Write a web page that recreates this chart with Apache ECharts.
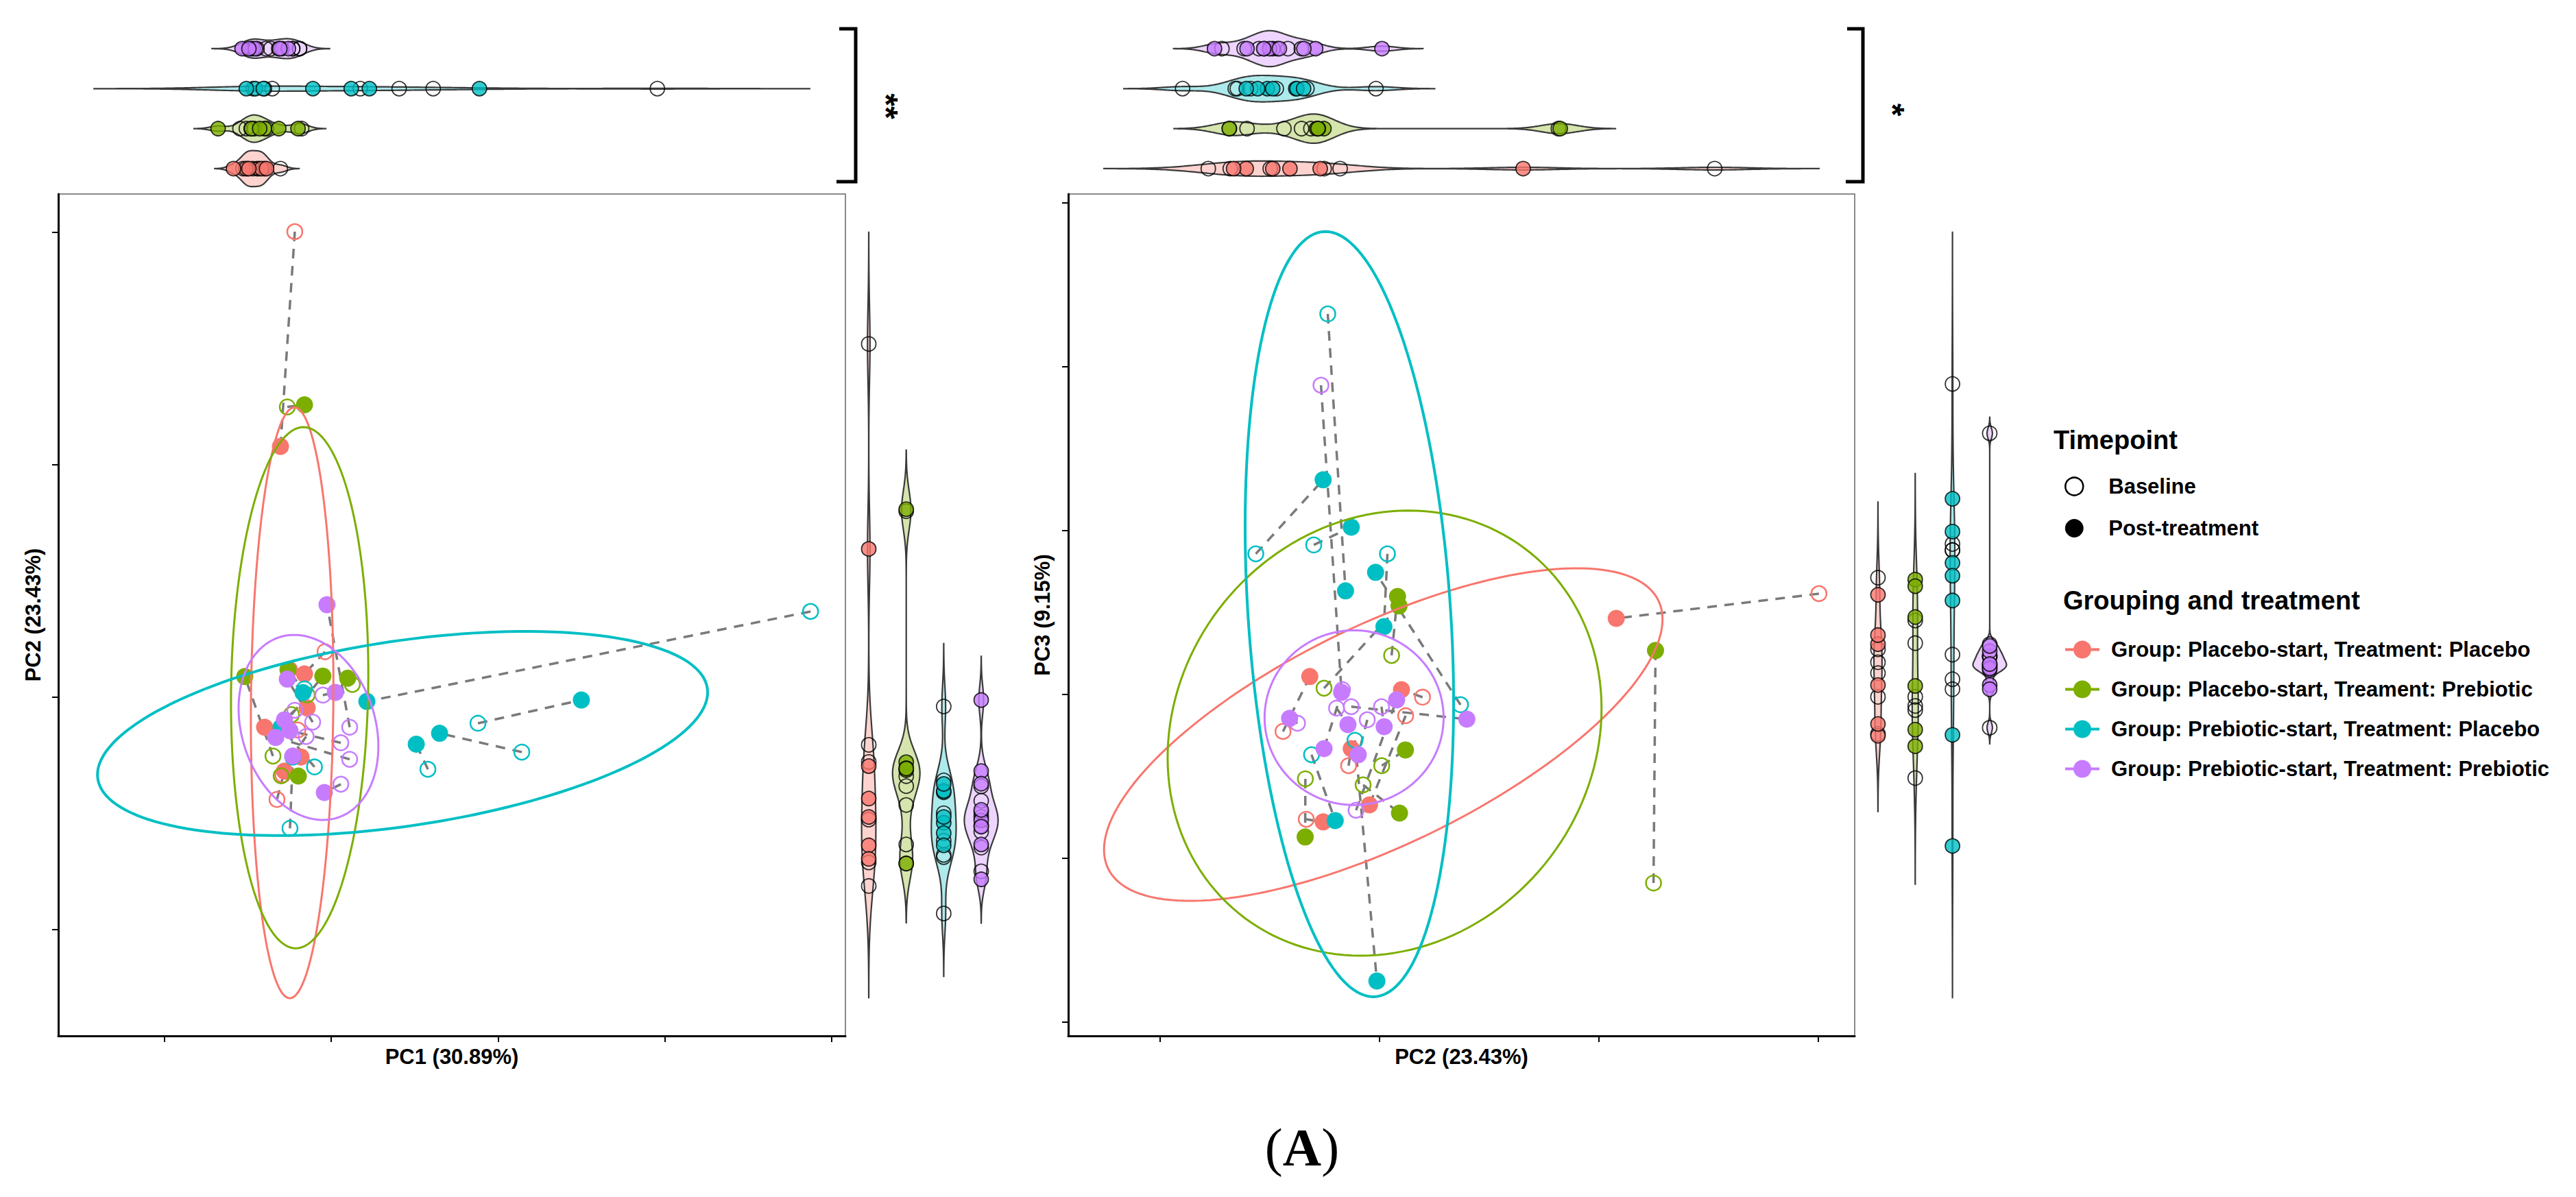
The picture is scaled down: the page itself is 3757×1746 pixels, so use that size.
<!DOCTYPE html>
<html><head><meta charset="utf-8">
<script src="https://cdn.jsdelivr.net/npm/echarts@6.0.0/dist/echarts.min.js"></script>
<style>html,body{margin:0;padding:0;background:#fff}#chart{width:3757px;height:1746px}</style>
</head><body><div id="chart"></div>
<script>
// ---------------- DATA ----------------
const groupNames = [
  'Group: Placebo-start, Treatment: Placebo',
  'Group: Placebo-start, Treament: Prebiotic',
  'Group: Prebiotic-start, Treatment: Placebo',
  'Group: Prebiotic-start, Treatment: Prebiotic'
];
const groupColors = ['#F8766D', '#7CAE00', '#00BFC4', '#C77CFF'];
const timepointNames = ['Baseline', 'Post-treatment'];

// each row = one subject: [PC1, PC2, PC3]; baseline row i pairs with post-treatment row i
const placeboPlaceboBaseline = [
  [-0.218, 2.003, 0.615], [-0.037, 0.196, -0.017], [-0.290, -0.334, -0.762],
  [-0.200, -0.141, -0.435], [-0.325, -0.440, -0.226], [-0.250, 0.119, -0.130]
];
const placeboPlaceboPost = [
  [-0.304, 1.079, 0.464], [-0.160, 0.100, 0.029], [-0.181, -0.257, -0.778],
  [-0.399, -0.129, -0.331], [-0.280, -0.318, 0.109], [-0.144, -0.046, -0.674]
];
const placeboPrebioticBaseline = [
  [-0.263, 1.249, -1.151], [0.127, 0.055, 0.238], [-0.144, 0.010, -0.435],
  [-0.238, -0.075, -0.552], [-0.349, -0.253, 0.038], [-0.300, -0.338, -0.515]
];
const placeboPrebioticPost = [
  [-0.160, 1.258, 0.268], [0.099, 0.082, 0.598], [-0.259, 0.118, -0.339],
  [-0.050, 0.091, -0.724], [-0.518, 0.089, 0.540], [-0.197, -0.339, -0.870]
];
const prebioticPlaceboBaseline = [
  [2.874, 0.369, -0.063], [0.880, -0.112, -0.280], [1.143, -0.236, 2.322],
  [0.580, -0.310, -0.368], [-0.247, -0.564, 0.858], [-0.160, 0.036, 0.858],
  [-0.100, -0.300, 0.912]
];
const prebioticPlaceboPost = [
  [0.214, -0.018, 0.745], [1.500, -0.012, -1.749], [0.650, -0.155, 0.632],
  [0.510, -0.202, -0.770], [-0.230, -0.257, 1.310], [-0.169, 0.020, 0.414],
  [-0.300, -0.129, 1.021]
];
const prebioticPrebioticBaseline = [
  [0.111, -0.129, -0.075], [-0.111, -0.107, -0.707], [-0.050, 0.009, -0.075],
  [0.058, -0.196, -0.084], [0.111, -0.267, 1.887], [0.058, -0.374, -0.176],
  [-0.150, -0.169, 0.029], [-0.218, -0.056, -0.155]
];
const prebioticPrebioticPost = [
  [-0.025, 0.398, -0.151], [-0.263, 0.078, -0.033], [0.025, 0.021, -0.197],
  [-0.247, -0.144, -0.184], [-0.333, -0.173, 0.013], [-0.041, -0.410, -0.146],
  [-0.230, -0.253, -0.331], [-0.280, -0.097, -0.368]
];

// 95% ellipses: [centerX, centerY, axisAx, axisAy, axisBx, axisBy, group]
const leftEllipses = [
  [-0.234, -0.024, 0.247, 0, 0.014, 1.271, 0],
  [-0.189, 0.041, 0.411, 0, 0.023, 1.121, 1],
  [0.428, -0.156, 1.829, 0.177, 0, -0.402, 2],
  [-0.136, -0.130, 0.410, 0, -0.086, 0.398, 3]
];
const rightEllipses = [
  [0.017, -0.245, 1.273, 0.703, 0, -0.732, 0],
  [0.023, -0.236, 0.983, 0, 0.109, 1.358, 1],
  [-0.1375, 0.490, 0.4625, 0, -0.109, 2.335, 2],
  [-0.116, -0.142, 0.408, 0, 0, 0.533, 3]
];

const pc1Ticks = [-1, 0, 1, 2, 3];
const pc2Ticks = [-1, 0, 1, 2];
const pc3Ticks = [-2, -1, 0, 1, 2, 3];
const pc1Range = [-1.636, 3.083];
const pc2RangeLeft = [-1.457, 2.165];
const pc2RangeRight = [-1.419, 2.166];
const pc3Range = [-2.084, 3.054];
const axisTitles = ['PC1 (30.89%)', 'PC2 (23.43%)', 'PC3 (9.15%)'];
const significance = ['**', '*'];

// ---------------- HELPERS ----------------
const baselines = [placeboPlaceboBaseline, placeboPrebioticBaseline, prebioticPlaceboBaseline, prebioticPrebioticBaseline];
const posts = [placeboPlaceboPost, placeboPrebioticPost, prebioticPlaceboPost, prebioticPrebioticPost];
const FONT = 'Liberation Sans';

function rgba(hex, a) {
  const n = parseInt(hex.slice(1), 16);
  return 'rgba(' + (n >> 16 & 255) + ',' + (n >> 8 & 255) + ',' + (n & 255) + ',' + a + ')';
}
function q7(s, p) { const h = (s.length - 1) * p, lo = Math.floor(h), hi = Math.ceil(h); return s[lo] + (h - lo) * (s[hi] - s[lo]); }
function bwNrd0(x) {
  const n = x.length, m = x.reduce((a, b) => a + b, 0) / n;
  const sd = Math.sqrt(x.reduce((a, b) => a + (b - m) * (b - m), 0) / (n - 1));
  const s = x.slice().sort((a, b) => a - b);
  let lo = Math.min(sd, (q7(s, 0.75) - q7(s, 0.25)) / 1.34);
  if (!lo) lo = sd || Math.abs(x[0]) || 1;
  return 0.9 * lo * Math.pow(n, -0.2);
}
function violinModel(k) {
  const dens = baselines.map((b, g) => {
    const x = b.concat(posts[g]).map(r => r[k]);
    const bw = bwNrd0(x);
    const a = Math.min(...x) - 3 * bw, c = Math.max(...x) + 3 * bw;
    const t = [], d = [], N = 300;
    for (let i = 0; i < N; i++) {
      const tt = a + (c - a) * i / (N - 1);
      let s = 0;
      for (const v of x) { const z = (tt - v) / bw; s += Math.exp(-0.5 * z * z); }
      t.push(tt); d.push(s / (x.length * bw * Math.sqrt(2 * Math.PI)));
    }
    return { t, d, a, c };
  });
  const maxD = Math.max(...dens.map(o => Math.max(...o.d)));
  const lo = Math.min(...dens.map(o => o.a)), hi = Math.max(...dens.map(o => o.c));
  const pad = 0.05 * (hi - lo);
  return { dens, maxD, min: lo - pad, max: hi + pad };
}
const vPC1 = violinModel(0), vPC2 = violinModel(1), vPC3 = violinModel(2);

function violinRenderer(model, horizontal) {
  return function (params, api) {
    const g = horizontal ? api.value(1) : api.value(0);
    const dd = model.dens[g];
    const band = horizontal ? api.size([0, 1])[1] : api.size([1, 0])[0];
    const side1 = [], side2 = [];
    for (let i = 0; i < dd.t.length; i++) {
      const hw = 0.45 * band * dd.d[i] / model.maxD;
      if (horizontal) {
        const c = api.coord([dd.t[i], g]);
        side1.push([c[0], c[1] - hw]); side2.push([c[0], c[1] + hw]);
      } else {
        const c = api.coord([g, dd.t[i]]);
        side1.push([c[0] - hw, c[1]]); side2.push([c[0] + hw, c[1]]);
      }
    }
    return {
      type: 'polygon', shape: { points: side1.concat(side2.reverse()) },
      style: { fill: rgba(groupColors[g], 0.32), stroke: '#3a3a3a', lineWidth: 2.2 }
    };
  };
}
function ellipseRender(params, api) {
  const cx = api.value(0), cy = api.value(1), ax = api.value(2), ay = api.value(3), bx = api.value(4), by = api.value(5), g = api.value(6);
  const pts = [];
  for (let i = 0; i <= 160; i++) {
    const t = i / 160 * 2 * Math.PI;
    pts.push(api.coord([cx + ax * Math.cos(t) + bx * Math.sin(t), cy + ay * Math.cos(t) + by * Math.sin(t)]));
  }
  return { type: 'polyline', shape: { points: pts }, style: { stroke: groupColors[g], lineWidth: g === 2 ? 4 : 3, fill: null } };
}
function segRender(params, api) {
  const p1 = api.coord([api.value(0), api.value(1)]), p2 = api.coord([api.value(2), api.value(3)]);
  return { type: 'line', shape: { x1: p1[0], y1: p1[1], x2: p2[0], y2: p2[1] }, style: { stroke: '#7a7a7a', lineWidth: 3.5, lineDash: [14, 11] } };
}

// ---------------- LAYOUT ----------------
const grids = [
  { left: 85, top: 283, width: 1148, height: 1228, show: true, borderColor: '#8a8a8a', borderWidth: 2 }, // 0 left scatter
  { left: 85, top: 41.8, width: 1148, height: 233.3 },   // 1 top-left violins (PC1)
  { left: 1239.7, top: 283, width: 218.7, height: 1228 }, // 2 right-left violins (PC2)
  { left: 1558, top: 283, width: 1147, height: 1228, show: true, borderColor: '#8a8a8a', borderWidth: 2 }, // 3 right scatter
  { left: 1558, top: 41.8, width: 1147, height: 233.3 }, // 4 top-right violins (PC2)
  { left: 2711.8, top: 283, width: 217.3, height: 1228 } // 5 right-right violins (PC3)
];
grids.forEach(g => { g.outerBoundsMode = 'none'; g.containLabel = false; });

const nameStyle = { fontFamily: FONT, fontWeight: 'bold', fontSize: 31, color: '#000' };
function mainAxis(gridIndex, range, ticks, name, gap) {
  return {
    type: 'value', gridIndex, min: range[0], max: range[1], name, nameLocation: 'middle', nameGap: gap,
    nameTextStyle: nameStyle,
    axisLine: { show: true, onZero: false, lineStyle: { color: '#000', width: 3 } },
    axisTick: { show: true, customValues: ticks, length: 9, lineStyle: { color: '#000', width: 2 } },
    axisLabel: { show: false }, splitLine: { show: false }
  };
}
const catData = ['0', '1', '2', '3'];
function hiddenCat(gridIndex) { return { type: 'category', gridIndex, data: catData, show: false, boundaryGap: true }; }
function hiddenVal(gridIndex, m) { return { type: 'value', gridIndex, min: m.min, max: m.max, show: false, splitLine: { show: false } }; }

const xAxes = [
  mainAxis(0, pc1Range, pc1Ticks, axisTitles[0], 15),
  hiddenVal(1, vPC1),
  hiddenCat(2),
  mainAxis(3, pc2RangeRight, pc2Ticks, axisTitles[1], 15),
  hiddenVal(4, vPC2),
  hiddenCat(5)
];
const yAxes = [
  mainAxis(0, pc2RangeLeft, pc2Ticks, axisTitles[1], 21),
  hiddenCat(1),
  hiddenVal(2, vPC2),
  mainAxis(3, pc3Range, pc3Ticks, axisTitles[2], 22),
  hiddenCat(4),
  hiddenVal(5, vPC3)
];

// ---------------- SERIES ----------------
const series = [];
function scatterPanel(axisIdx, kx, ky, ellipses) {
  const segs = [];
  baselines.forEach((b, g) => b.forEach((r, i) => segs.push([r[kx], r[ky], posts[g][i][kx], posts[g][i][ky]])));
  series.push({
    type: 'custom', xAxisIndex: axisIdx, yAxisIndex: axisIdx, z: 2, silent: true,
    renderItem: segRender, encode: { x: [0, 2], y: [1, 3] }, data: segs
  });
  baselines.forEach((b, g) => {
    const data = b.map(r => ({ value: [r[kx], r[ky]], symbolSize: 22, itemStyle: { color: 'rgba(255,255,255,0)', borderColor: groupColors[g], borderWidth: 2.5 } }))
      .concat(posts[g].map(r => ({ value: [r[kx], r[ky]] })));
    series.push({
      type: 'scatter', name: groupNames[g], xAxisIndex: axisIdx, yAxisIndex: axisIdx, z: 3,
      symbol: 'circle', symbolSize: 25, itemStyle: { color: groupColors[g], borderWidth: 0, opacity: 1 },
      emphasis: { disabled: true }, data
    });
  });
  series.push({
    type: 'custom', xAxisIndex: axisIdx, yAxisIndex: axisIdx, z: 4, silent: true,
    renderItem: ellipseRender, encode: { x: 0, y: 1 }, data: ellipses
  });
}
scatterPanel(0, 0, 1, leftEllipses);
scatterPanel(3, 1, 2, rightEllipses);

function violinPanel(axisIdx, k, model, horizontal) {
  series.push({
    type: 'custom', xAxisIndex: axisIdx, yAxisIndex: axisIdx, z: 2, silent: true,
    renderItem: violinRenderer(model, horizontal), encode: { x: 0, y: 1 },
    data: groupColors.map((c, g) => horizontal ? [0, g] : [g, 0])
  });
  const mk = (arr, g) => arr.map(r => horizontal ? [r[k], g] : [g, r[k]]);
  const baseData = [], postData = [];
  baselines.forEach((b, g) => {
    mk(b, g).forEach(v => baseData.push({ value: v }));
    mk(posts[g], g).forEach(v => postData.push({ value: v, itemStyle: { color: groupColors[g] } }));
  });
  series.push({
    type: 'scatter', name: timepointNames[0], xAxisIndex: axisIdx, yAxisIndex: axisIdx, z: 3, symbolSize: 21,
    itemStyle: { color: 'rgba(255,255,255,0)', borderColor: '#000', borderWidth: 1.8 }, emphasis: { disabled: true }, data: baseData
  });
  series.push({
    type: 'scatter', name: timepointNames[1], xAxisIndex: axisIdx, yAxisIndex: axisIdx, z: 3, symbolSize: 21,
    itemStyle: { color: '#000', borderColor: '#000', borderWidth: 1.8 }, emphasis: { disabled: true }, data: postData
  });
}
violinPanel(1, 0, vPC1, true);
violinPanel(2, 1, vPC2, false);
violinPanel(4, 1, vPC2, true);
violinPanel(5, 2, vPC3, false);

// ---------------- LEGENDS & ANNOTATIONS ----------------
const lineDotIcon = 'path://M0,11L50,11L50,15L0,15Z M12,13A13,13,0,1,1,38,13A13,13,0,1,1,12,13Z';
const legendText = { fontFamily: FONT, fontWeight: 'bold', fontSize: 31, color: '#000', lineHeight: 26 };
const legends = [
  {
    orient: 'vertical', left: 3011, top: 694, padding: 0, itemWidth: 26, itemHeight: 26, itemGap: 30,
    selectedMode: false, textStyle: Object.assign({ padding: [0, 0, 0, 32] }, legendText),
    data: [
      { name: timepointNames[0], icon: 'circle', itemStyle: { color: '#fff', borderColor: '#000', borderWidth: 2.5, opacity: 1 } },
      { name: timepointNames[1], icon: 'circle', itemStyle: { color: '#000', borderColor: '#000', borderWidth: 1, opacity: 1 } }
    ]
  },
  {
    orient: 'vertical', left: 3012, top: 932, padding: 0, itemWidth: 50, itemHeight: 26, itemGap: 27,
    selectedMode: false, textStyle: Object.assign({ padding: [0, 0, 0, 12] }, legendText),
    itemStyle: { borderWidth: 0 },
    data: groupNames.map(n => ({ name: n, icon: lineDotIcon }))
  }
];

const graphic = [
  { type: 'text', x: 2995, y: 642, style: { text: 'Timepoint', fontFamily: FONT, fontWeight: 'bold', fontSize: 38, fill: '#000', align: 'left', verticalAlign: 'middle' } },
  { type: 'text', x: 3009, y: 876, style: { text: 'Grouping and treatment', fontFamily: FONT, fontWeight: 'bold', fontSize: 38, fill: '#000', align: 'left', verticalAlign: 'middle' } },
  { type: 'polyline', shape: { points: [[1224, 42], [1248, 42], [1248, 265], [1220, 265]] }, style: { stroke: '#000', lineWidth: 5, fill: null } },
  { type: 'text', x: 1292, y: 155, rotation: -Math.PI / 2, style: { text: significance[0], fontFamily: FONT, fontWeight: 'bold', fontSize: 48, fill: '#000', align: 'center', verticalAlign: 'middle' } },
  { type: 'polyline', shape: { points: [[2694, 42], [2717, 42], [2717, 265], [2692, 265]] }, style: { stroke: '#000', lineWidth: 5, fill: null } },
  { type: 'text', x: 2760, y: 160, rotation: -Math.PI / 2, style: { text: significance[1], fontFamily: FONT, fontWeight: 'bold', fontSize: 48, fill: '#000', align: 'center', verticalAlign: 'middle' } },
  { type: 'text', x: 1899, y: 1673, style: {
      text: '{n|(}{b|A}{n|)}', align: 'center', verticalAlign: 'middle',
      rich: { n: { fontFamily: 'Liberation Serif', fontSize: 78, fill: '#000' }, b: { fontFamily: 'Liberation Serif', fontSize: 78, fontWeight: 'bold', fill: '#000' } }
  } }
];

const chart = echarts.init(document.getElementById('chart'), null, { renderer: 'svg', width: 3757, height: 1746 });
chart.setOption({
  animation: false, backgroundColor: '#fff',
  grid: grids, xAxis: xAxes, yAxis: yAxes, series, legend: legends, graphic
});
</script></body></html>
